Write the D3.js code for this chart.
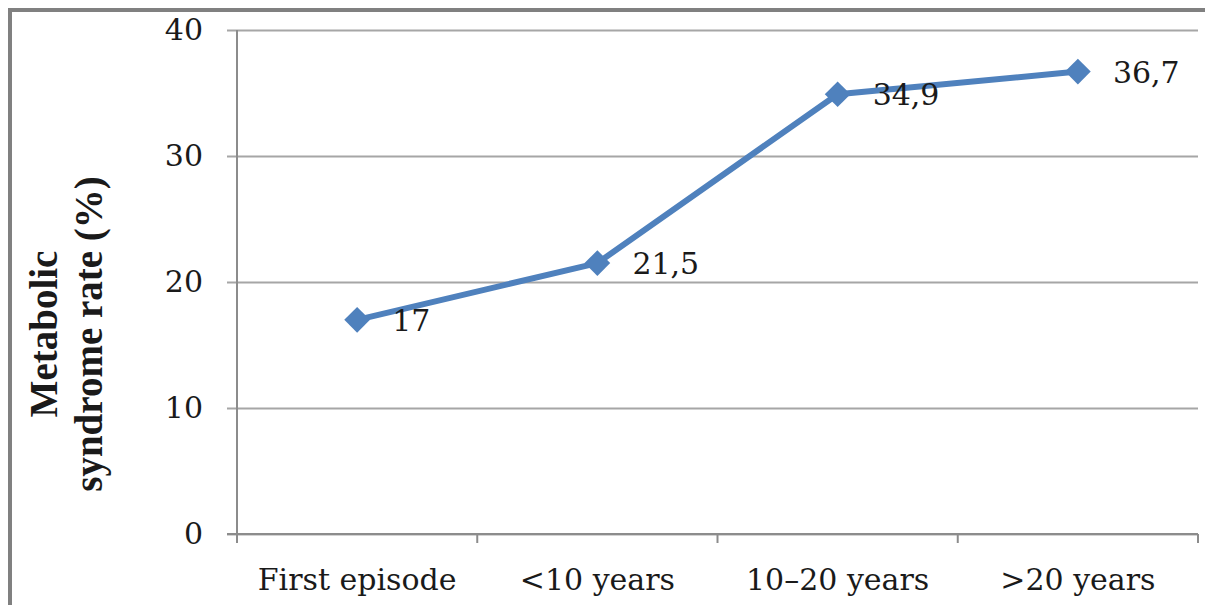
<!DOCTYPE html>
<html>
<head>
<meta charset="utf-8">
<script src="https://cdn.jsdelivr.net/npm/d3@7"></script>
<style>
  html, body { margin: 0; padding: 0; background: #fff; overflow: hidden; }
  svg { display: block; }
  text { font-family: "DejaVu Serif", "Liberation Serif", serif; fill: #1a1a1a; }
</style>
</head>
<body>
<svg id="chart" width="1205" height="605"></svg>
<script>
// Metabolic syndrome rate by illness duration
const categories = ["First episode", "<10 years", "10\u201320 years", ">20 years"];
const rates = [17, 21.5, 34.9, 36.7];
const rateLabels = ["17", "21,5", "34,9", "36,7"];
const yTicks = [0, 10, 20, 30, 40];
const yTitleLines = ["Metabolic", "syndrome rate (%)"];

const svg = d3.select("#chart");
const plot = { left: 237, right: 1198, top: 30, bottom: 534 };

// outer frame (top and left edges fall inside the canvas)
svg.append("path")
  .attr("d", "M10,605 L10,10 L1205,10")
  .attr("fill", "none").attr("stroke", "#808080").attr("stroke-width", 4);

const x = d3.scaleBand().domain(categories).range([plot.left, plot.right]).padding(0);
const y = d3.scaleLinear().domain([0, 40]).range([plot.bottom, plot.top]);

// horizontal gridlines with left tick marks
const yAxis = d3.axisLeft(y).tickValues(yTicks).tickSize(plot.right - plot.left + 10).tickPadding(24).tickFormat(d3.format("d"));
const gy = svg.append("g").attr("transform", `translate(${plot.right},0)`).call(yAxis);
gy.select(".domain").remove();
gy.selectAll(".tick line").attr("stroke", "#a6a6a6").attr("stroke-width", 2);
gy.selectAll(".tick text").attr("font-size", 30).attr("fill", "#1a1a1a");

// vertical axis line
svg.append("line")
  .attr("x1", plot.left).attr("x2", plot.left)
  .attr("y1", y(40)).attr("y2", y(0))
  .attr("stroke", "#8c8c8c").attr("stroke-width", 2);

// category axis: boundary ticks + centered labels
const boundaries = categories.map(c => x(c)).concat([x.range()[1]]);
svg.append("line")
  .attr("x1", plot.left - 10).attr("x2", plot.right)
  .attr("y1", y(0)).attr("y2", y(0))
  .attr("stroke", "#8c8c8c").attr("stroke-width", 2);
svg.selectAll(".xtick").data(boundaries).join("line")
  .attr("class", "xtick")
  .attr("x1", d => d).attr("x2", d => d)
  .attr("y1", y(0)).attr("y2", y(0) + 9)
  .attr("stroke", "#8c8c8c").attr("stroke-width", 2);
svg.selectAll(".xlabel").data(categories).join("text")
  .attr("class", "xlabel")
  .attr("x", d => x(d) + x.bandwidth() / 2)
  .attr("y", 590)
  .attr("text-anchor", "middle")
  .attr("font-size", 30)
  .text(d => d);

// y axis title
const title = svg.append("text")
  .attr("transform", "translate(0,334) rotate(-90)")
  .attr("text-anchor", "middle")
  .attr("font-weight", "bold")
  .attr("font-size", 39)
  .style("font-family", "'Liberation Serif', serif");
title.selectAll("tspan").data(yTitleLines).join("tspan")
  .attr("x", 0)
  .attr("y", (d, i) => 57 + i * 45)
  .text(d => d);

// data line
const pts = categories.map((c, i) => ({ c, v: rates[i], label: rateLabels[i] }));
const cx = d => x(d.c) + x.bandwidth() / 2;
const line = d3.line().x(cx).y(d => y(d.v));
svg.append("path")
  .datum(pts)
  .attr("d", line)
  .attr("fill", "none")
  .attr("stroke", "#4f81bd")
  .attr("stroke-width", 6)
  .attr("stroke-linejoin", "round");

// diamond markers
const diamond = d3.symbol().type(d3.symbolSquare).size(330);
svg.selectAll(".marker").data(pts).join("path")
  .attr("class", "marker")
  .attr("d", diamond)
  .attr("transform", d => `translate(${cx(d)},${y(d.v)}) rotate(45)`)
  .attr("fill", "#4f81bd");

// value labels to the right of each point
svg.selectAll(".vlabel").data(pts).join("text")
  .attr("class", "vlabel")
  .attr("x", d => cx(d) + 35)
  .attr("y", d => y(d.v) + 11)
  .attr("font-size", 30)
  .text(d => d.label);
</script>
</body>
</html>
